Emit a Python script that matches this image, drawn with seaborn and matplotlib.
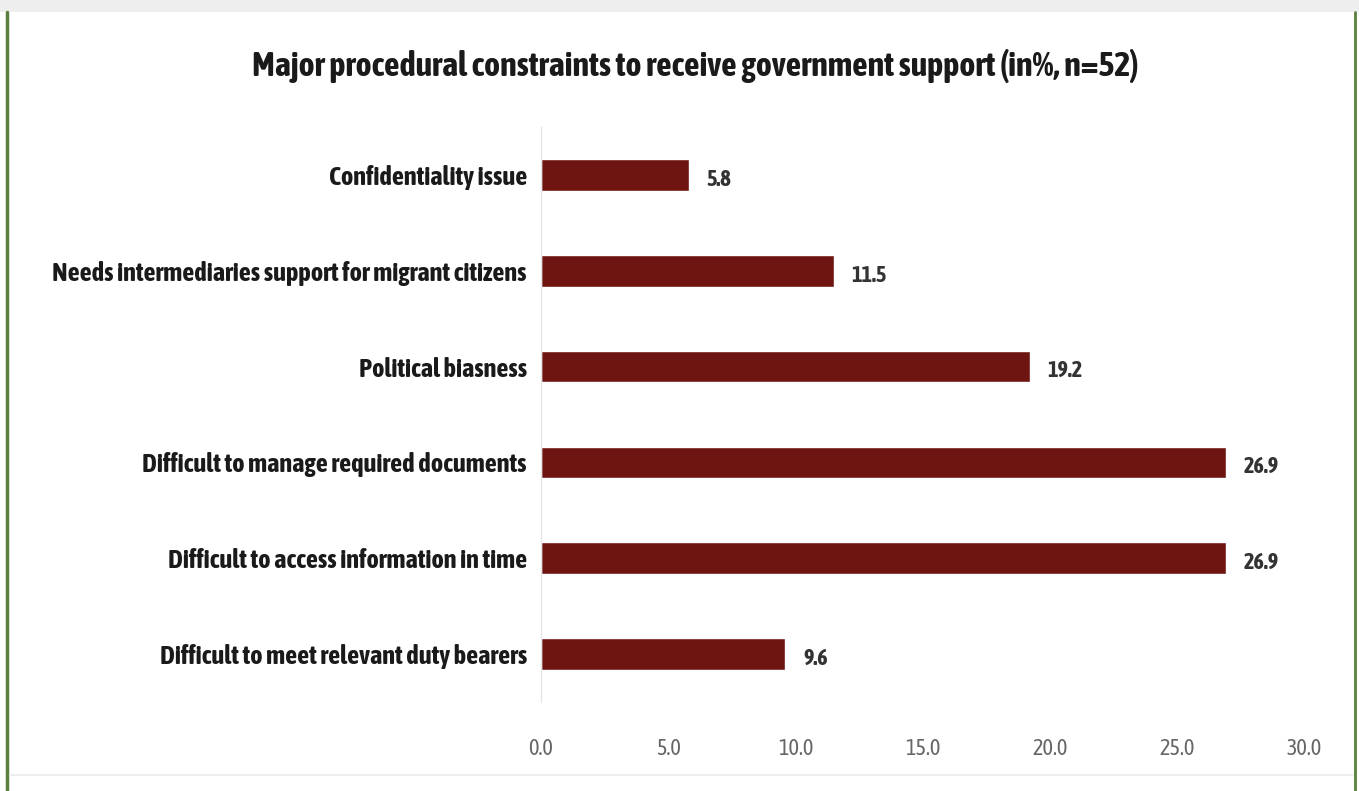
import matplotlib
matplotlib.use("Agg")
import matplotlib.pyplot as plt
import matplotlib.patches as mpatches
import seaborn as sns
import pandas as pd

# chart data
categories = ["Confidentiality issue",
              "Needs intermediaries support for migrant citizens",
              "Political biasness",
              "Difficult to manage required documents",
              "Difficult to access information in time",
              "Difficult to meet relevant duty bearers"]
percent = [5.8, 11.5, 19.2, 26.9, 26.9, 9.6]
x_ticks = [0, 5, 10, 15, 20, 25, 30]

sns.set_theme(style="white")
plt.rcParams['font.family'] = ['Asap Condensed', 'Liberation Sans', 'DejaVu Sans']

df = pd.DataFrame({"cat": categories, "val": percent})

fig = plt.figure(figsize=(13.59, 7.91), dpi=100)
ax = fig.add_axes([0.398, 0.1125, 0.562, 0.727])

sns.barplot(data=df, x="val", y="cat", color="#6e1411", width=0.33,
            saturation=1, ax=ax, orient="h")

ax.set_xlim(0, 30)
ax.set_ylim(5.5, -0.5)
ax.set_xticks(x_ticks)
ax.set_xticklabels([f"{t:.1f}" for t in x_ticks], color="#666666", fontsize=16)
ax.tick_params(axis="x", length=0, pad=26)
ax.tick_params(axis="y", length=0, pad=10)
for lbl in ax.get_yticklabels():
    lbl.set_fontsize(19)
    lbl.set_fontweight("bold")
    lbl.set_color("#1a1a1a")
ax.set_xlabel("")
ax.set_ylabel("")

for s in ["top", "right", "bottom"]:
    ax.spines[s].set_visible(False)
ax.spines["left"].set_color("#e6e6e6")
ax.spines["left"].set_linewidth(1)

for i, v in enumerate(percent):
    ax.text(v + 0.7, i + 0.05, f"{v:.1f}", va="center", ha="left",
            fontsize=16, fontweight="bold", color="#333333")

fig.text(0.512, 0.916, "Major procedural constraints to receive government support (in%, n=52)",
         ha="center", va="center", fontsize=24.5, fontweight="bold", color="#1a1a1a")

# page decorations: grey band on top, green side rules, bottom rule
fig.add_artist(mpatches.Rectangle((0, 1 - 12 / 791), 1, 12 / 791,
                                  transform=fig.transFigure, color="#eeeeee", lw=0))
fig.add_artist(plt.Line2D([7 / 1359, 7 / 1359], [0, 1 - 12 / 791],
                          transform=fig.transFigure, color="#5b7f3c", lw=2.5))
fig.add_artist(plt.Line2D([1355 / 1359, 1355 / 1359], [0, 1 - 12 / 791],
                          transform=fig.transFigure, color="#5b7f3c", lw=2))
fig.add_artist(plt.Line2D([10 / 1359, 1353 / 1359], [1 - 775 / 791, 1 - 775 / 791],
                          transform=fig.transFigure, color="#eeeeee", lw=1.5))

fig.savefig("out.png", dpi=100, facecolor="white")
